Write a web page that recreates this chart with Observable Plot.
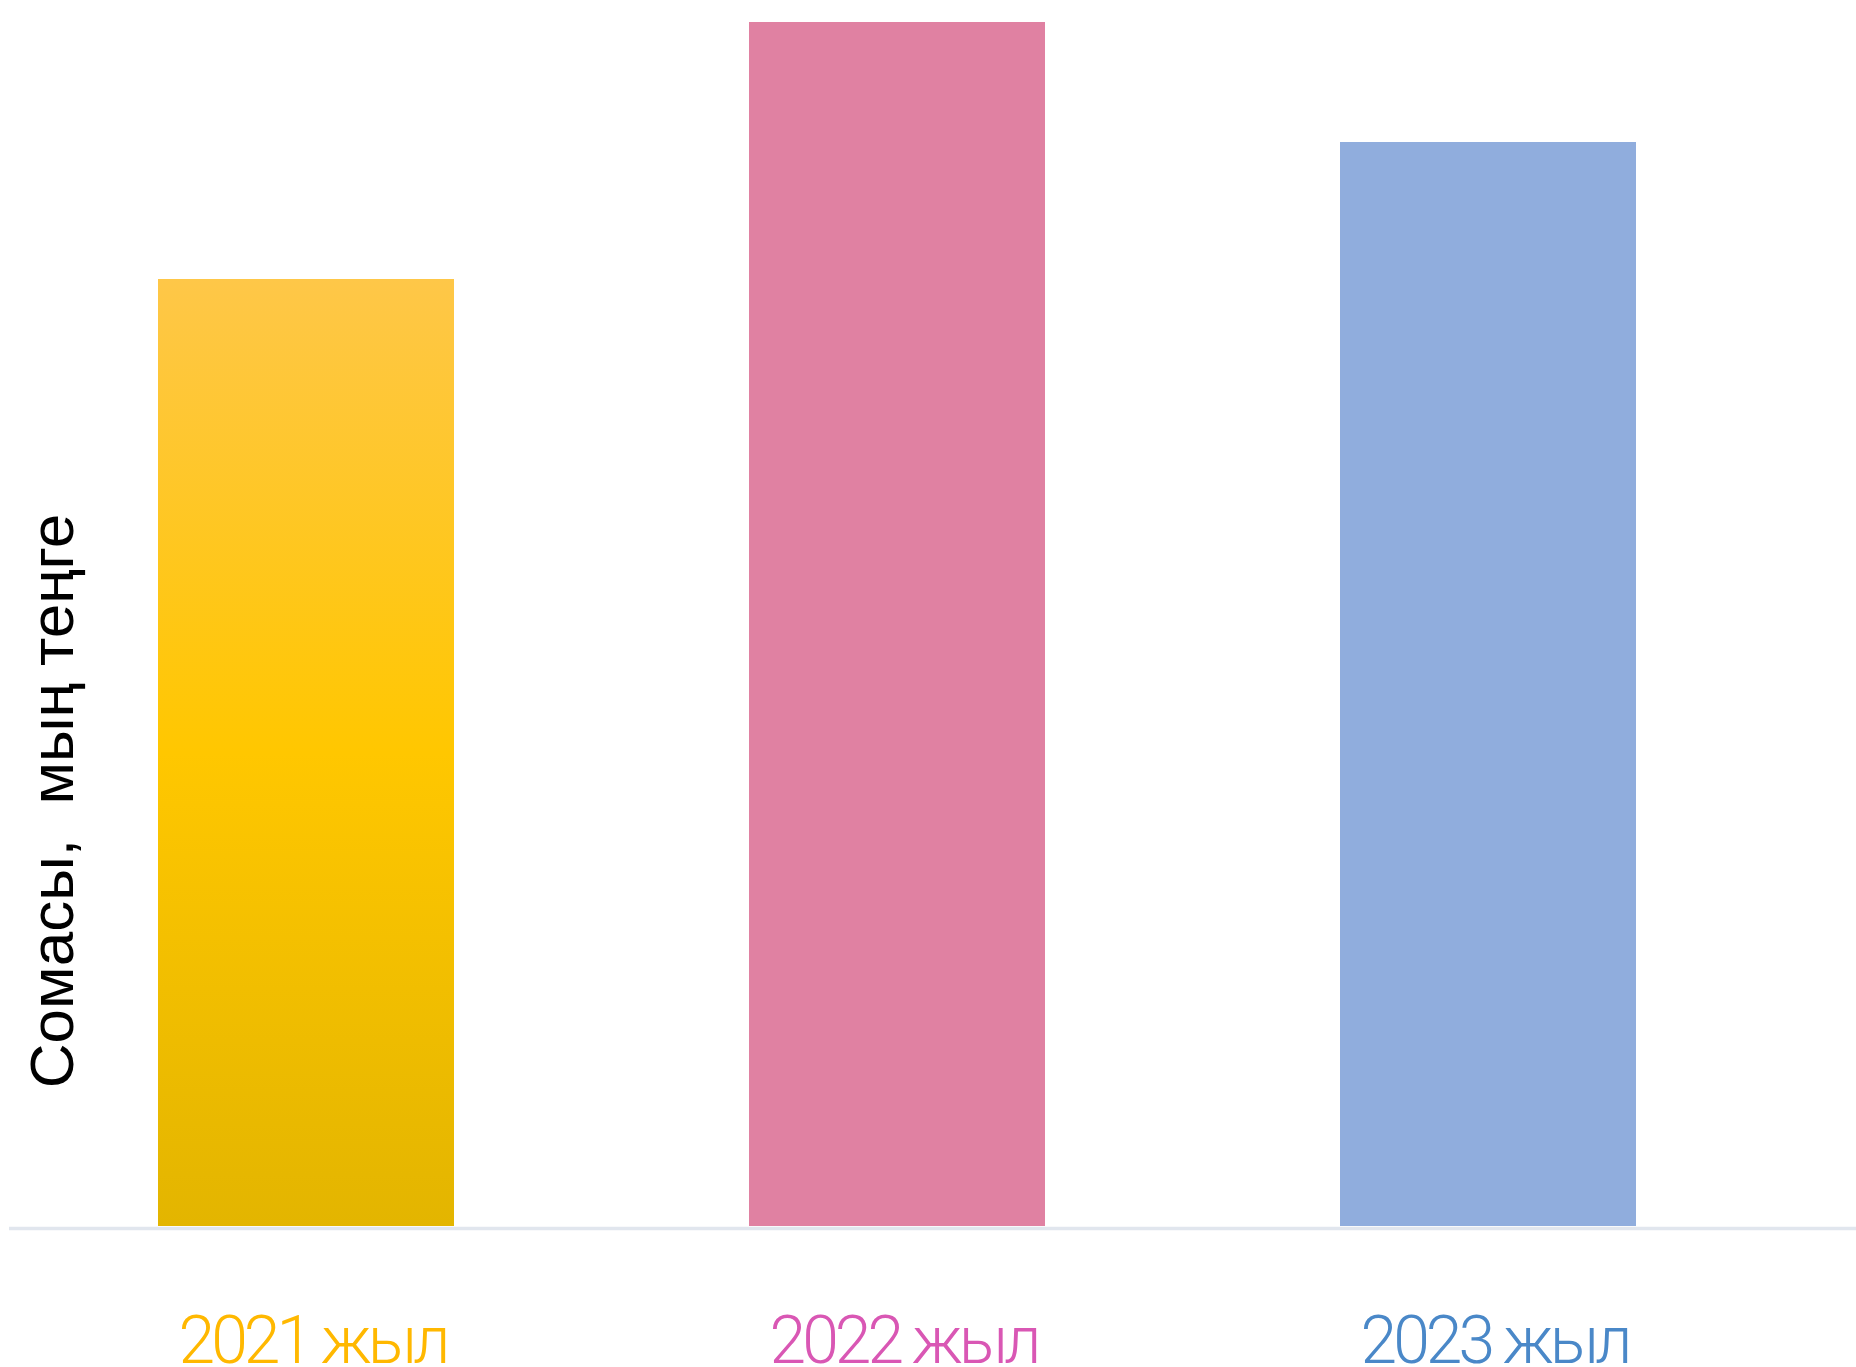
<!DOCTYPE html>
<html>
<head>
<meta charset="utf-8">
<script src="https://cdn.jsdelivr.net/npm/d3@7"></script>
<script src="https://cdn.jsdelivr.net/npm/@observablehq/plot@0.6"></script>
<style>
  html, body { margin: 0; padding: 0; background: #ffffff; }
  #chart svg { display: block; }
</style>
</head>
<body>
<div id="chart"></div>
<script>
// Data (relative amounts; no tick values shown)
const categories = ["2021", "2022", "2023"];
const values = [947, 1204, 1084];
const labels = ["2021 жыл", "2022 жыл", "2023 жыл"];
const barFills = ["url(#grad2021)", "#e081a2", "#90addd"];
const labelColors = ["#ffb800", "#d957b4", "#4a88c8"];
const yTitle = "Сомасы,  мың теңге";

const data = categories.map((c, i) => ({
  year: c, value: values[i], label: labels[i], fill: barFills[i], color: labelColors[i]
}));

function gradientDefs() {
  const ns = "http://www.w3.org/2000/svg";
  const defs = document.createElementNS(ns, "defs");
  const lg = document.createElementNS(ns, "linearGradient");
  lg.setAttribute("id", "grad2021");
  lg.setAttribute("x1", "0"); lg.setAttribute("y1", "0");
  lg.setAttribute("x2", "0"); lg.setAttribute("y2", "1");
  [["0", "#fec748"], ["0.5", "#ffc700"], ["1", "#e3b500"]].forEach(([o, c]) => {
    const s = document.createElementNS(ns, "stop");
    s.setAttribute("offset", o); s.setAttribute("stop-color", c);
    lg.appendChild(s);
  });
  defs.appendChild(lg);
  return defs;
}

const chart = Plot.plot({
  width: 1856,
  height: 1367,
  marginLeft: 9,
  marginRight: 0,
  marginTop: 21,
  marginBottom: 141,
  x: { domain: categories, paddingInner: 0.5, paddingOuter: 0.312, align: 0.403, axis: null },
  y: { domain: [0, 1205], axis: null },
  marks: [
    gradientDefs,
    Plot.barY(data, { x: "year", y: "value", fill: "fill" }),
    Plot.ruleY([0], { stroke: "#e1e6ee", strokeWidth: 3.5, dy: 2 }),
    Plot.text(data, {
      x: "year", y: () => 0, text: "label", fill: "color",
      lineAnchor: "bottom", dy: 136, dx: 6,
      fontSize: 66, fontFamily: "Roboto", fontWeight: 300
    }),
    Plot.text([yTitle], {
      text: d => d, frameAnchor: "left", rotate: -90,
      lineAnchor: "bottom", textAnchor: "middle",
      dx: 63, dy: 177,
      fontSize: 62, fontFamily: "Liberation Sans", fill: "#000000"
    })
  ]
});
chart.querySelectorAll("text").forEach(t => {
  if (t.getAttribute("font-family") === "Roboto" || (t.parentNode && t.parentNode.getAttribute && t.parentNode.getAttribute("font-family") === "Roboto")) {
    t.style.letterSpacing = "-4px";
  }
});
document.getElementById("chart").appendChild(chart);
</script>
</body>
</html>
